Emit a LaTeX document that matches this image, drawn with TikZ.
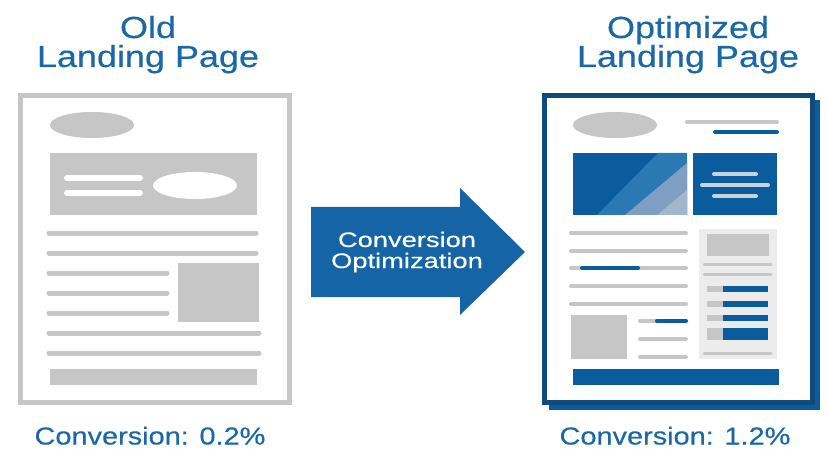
\documentclass[tikz,border=0pt]{standalone}
\usepackage{fontspec}
\setmainfont{Liberation Sans}
\newfontfamily\headfont[FakeStretch=1.18,FakeBold=0.4]{Liberation Sans}
\newfontfamily\arrowfont[FakeStretch=1.3,FakeBold=0.4]{Liberation Sans}
\definecolor{titleblue}{HTML}{1A69A6}
\definecolor{arrowblue}{HTML}{1464A6}
\definecolor{pageblue}{HTML}{0B5C9C}
\definecolor{frameblue}{HTML}{0E4A7C}
\definecolor{mockgray}{HTML}{C6C6C6}
\definecolor{panelgray}{HTML}{ECECEC}
\definecolor{stripeA}{HTML}{2A78B4}
\definecolor{stripeB}{HTML}{7F9FC2}
\definecolor{stripeC}{HTML}{A2B6CC}
\definecolor{boxline}{HTML}{C9D3DC}
\tikzset{
    title/.style={text=titleblue, font=\headfont\fontsize{30.5}{30}\selectfont, anchor=base, inner sep=0pt},
    convtext/.style={text=titleblue, font=\headfont\fontsize{24.5}{25}\selectfont, anchor=base, inner sep=0pt},
    arrowlabel/.style={text=white, font=\arrowfont\fontsize{21}{21}\selectfont, anchor=base, inner sep=0pt},
    oldline/.style={line width=5pt, line cap=round, draw=mockgray},
    newline/.style={line width=4pt, line cap=round, draw=mockgray},
    blueline/.style={line width=4pt, line cap=round, draw=pageblue},
}
\begin{document}
\begin{tikzpicture}[x=1pt,y=-1pt]
        \useasboundingbox (0,0) rectangle (827,449);
        \foreach \x/\y/\n/\l in {148/38/oldtop/Old,148/67/oldbot/Landing Page,688/38/opttop/Optimized,688/67/optbot/Landing Page}{
            \node[title] (\n) at (\x,\y) {\l};
        }
        \node[convtext] (oldconv) at (150,444.5) {Conversion: 0.2\%};
        \node[convtext] (optconv) at (675,444.5) {Conversion: 1.2\%};
        % old page
        \draw[mockgray, line width=5pt, fill=white] (20.5,95.5) rectangle (289.5,402.5);
        \fill[mockgray] (92,125) ellipse [x radius=42, y radius=13];
        \fill[mockgray] (50,153) rectangle (257,215);
        \foreach \y in {178,193}{
            \draw[white, line width=6pt, line cap=round] (67,\y) -- (140,\y);
        }
        \fill[white] (195,185.5) ellipse [x radius=42, y radius=13.5];
        \foreach \y/\e in {233/256,253/256,333/259,353/259}{
            \draw[oldline] (49,\y) -- (\e,\y);
        }
        \foreach \y in {273,293,313}{
            \draw[oldline] (49,\y) -- (167,\y);
        }
        \fill[mockgray] (178,263) rectangle (259,322);
        \fill[mockgray] (50,369) rectangle (257,385);
        % arrow
        \fill[arrowblue] (311,207) -- (460,207) -- (460,188) -- (525,252) -- (460,315) -- (460,297) -- (311,297) -- cycle;
        \node[arrowlabel] (convA) at (407,247) {Conversion};
        \node[arrowlabel] (convB) at (407,268) {Optimization};
        % optimized page
        \fill[pageblue] (549,100) rectangle (820,410);
        \draw[frameblue, line width=5pt, fill=white] (544.5,95.5) rectangle (812.5,402.5);
        \fill[mockgray] (615,125) ellipse [x radius=42, y radius=13];
        \draw[newline] (687,122) -- (777,122);
        \draw[blueline] (715,132) -- (777,132);
        \fill[pageblue] (573,153) rectangle (687,215);
        \fill[stripeA] (597,215) -- (658,153) -- (687,153) -- (687,215) -- cycle;
        \fill[stripeB] (625,215) -- (687,163) -- (687,215) -- cycle;
        \fill[stripeC] (657,215) -- (687,190) -- (687,215) -- cycle;
        \fill[pageblue] (693,153) rectangle (777,215);
        \foreach \a/\b/\y in {714/756/174,702/768/185,714/756/196}{
            \draw[line width=4pt, line cap=round, boxline] (\a,\y) -- (\b,\y);
        }
        \foreach \y in {233,251,268,286,304}{
            \draw[newline] (571,\y) -- (686,\y);
        }
        \draw[blueline] (582,268) -- (638,268);
        \fill[mockgray] (571,315) rectangle (627,359);
        \foreach \y in {321,339,357}{
            \draw[newline] (640,\y) -- (686,\y);
        }
        \draw[blueline] (657,321) -- (686,321);
        \fill[panelgray] (699,229) rectangle (777,359);
        \fill[mockgray] (707,234) rectangle (769,256);
        \foreach \y in {264,274,353}{
            \draw[newline, line width=3pt] (704,\y) -- (771,\y);
        }
        \foreach \t/\b in {286/292,301/307,315/321,328/340}{
            \fill[mockgray] (707,\t) rectangle (723,\b);
            \fill[pageblue] (723,\t) rectangle (768,\b);
        }
        \fill[pageblue] (573,369) rectangle (779,385);
\end{tikzpicture}
\end{document}
